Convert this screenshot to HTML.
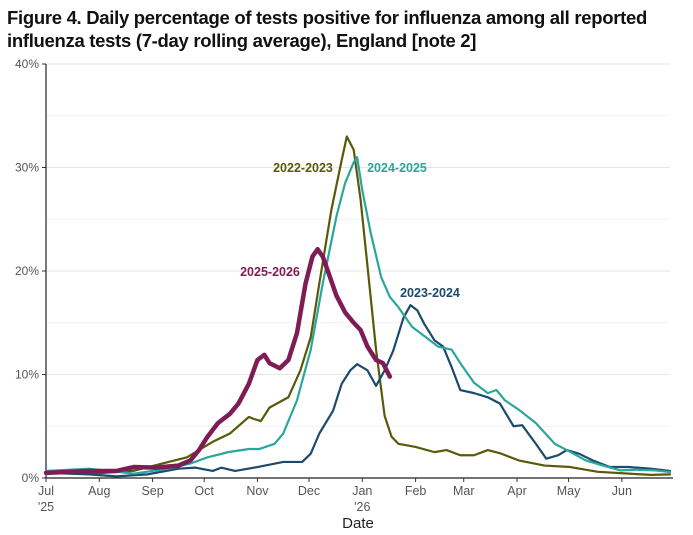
<!DOCTYPE html>
<html><head><meta charset="utf-8"><style>
body{margin:0;background:#fff;width:693px;height:535px;overflow:hidden;font-family:"Liberation Sans",sans-serif}
#title{position:absolute;left:7px;top:6px;font-size:18.5px;font-weight:bold;color:#111;line-height:23px;letter-spacing:-0.3px}
svg{position:absolute;left:0;top:0}
</style></head><body>
<div id="title">Figure 4. Daily percentage of tests positive for influenza among all reported<br>influenza tests (7-day rolling average), England [note 2]</div>
<svg id="c" width="693" height="535"></svg>
<script>
const monthLabels=["Jul","Aug","Sep","Oct","Nov","Dec","Jan","Feb","Mar","Apr","May","Jun"];
const monthDays=[0,31,62,92,123,153,184,215,243,274,304,335];
const yTicks=[0,10,20,30,40];
const s2223Days=[0,25,51,69,82,92,97,107,118,121,125,130,141,148,154,159,166,172,175,179,183,187,192,197,201,205,215,226,233,241,249,257,264,275,290,305,321,339,352,363];
const s2223Vals=[0.5,0.4,0.7,1.45,2,3,3.5,4.3,5.9,5.7,5.5,6.8,7.8,10.4,13.6,18.8,25.9,30.7,33,31.7,26.9,20.5,12.4,6,4,3.3,3,2.5,2.7,2.2,2.2,2.7,2.4,1.7,1.2,1.06,0.6,0.42,0.3,0.35];
const s2324Days=[0,25,41,59,77,87,97,102,110,123,138,149,154,159,167,172,177,181,187,192,197,202,208,212,216,220,226,231,236,241,249,257,264,272,277,285,291,298,303,310,318,328,339,352,363];
const s2324Vals=[0.5,0.35,0.16,0.35,0.9,1,0.68,1,0.68,1.06,1.55,1.55,2.35,4.3,6.5,9.1,10.4,11,10.4,8.9,10.4,12.3,15.5,16.7,16.2,14.9,13.3,12.7,10.7,8.5,8.2,7.8,7.2,5,5.1,3.3,1.87,2.2,2.7,2.35,1.7,1.06,1.06,0.9,0.68];
const s2425Days=[0,25,51,71,84,94,106,118,124,133,138,146,154,161,169,174,179,181,184,189,195,200,205,213,221,228,236,241,249,257,262,267,275,285,296,303,314,324,334,344,354,363];
const s2425Vals=[0.68,0.9,0.42,0.9,1.4,2,2.5,2.8,2.8,3.3,4.3,7.5,12.4,18.8,25.3,28.5,30.5,31,27.8,23.6,19.4,17.5,16.5,14.6,13.6,12.7,12.4,11.1,9.2,8.2,8.5,7.5,6.6,5.3,3.3,2.7,1.7,1.2,0.74,0.8,0.74,0.58];
const s2526Days=[0,25,41,51,64,77,84,89,94,100,107,112,118,123,127,130,136,141,146,151,155,158,161,165,169,174,179,183,187,192,196,200];
const s2526Vals=[0.5,0.68,0.68,1.06,1,1.2,1.7,2.7,4,5.3,6.2,7.2,9.1,11.4,11.9,11.1,10.6,11.4,14,18.8,21.4,22.1,21.4,19.5,17.6,16,15,14.3,12.7,11.4,11.1,9.8];
const X0=46,X1=670,DMAX=363,Y0=478,Y40=64;
const x=d=>X0+(X1-X0)*d/DMAX;
const y=v=>Y0-(Y0-Y40)*v/40;
const svg=document.getElementById('c');
const NS='http://www.w3.org/2000/svg';
function mk(t,a,txt){const e=document.createElementNS(NS,t);for(const k in a)e.setAttribute(k,a[k]);if(txt!==undefined)e.textContent=txt;svg.appendChild(e);return e;}
for(let v=5;v<=40;v+=5){
 const g=mk('line',{x1:X0,x2:X1,y1:y(v),y2:y(v),stroke:v%10?'#f2f2f2':'#e6e6e6','stroke-width':1});
 
 
}
yTicks.forEach(v=>{
 const t=mk('text',{x:39,y:y(v)+4,'text-anchor':'end','font-size':12,fill:'#555'},v+'%');
 
 
 mk('line',{x1:X0-4,x2:X0,y1:y(v),y2:y(v),stroke:'#333'});
});
mk('line',{x1:X0,x2:X0,y1:Y40,y2:Y0,stroke:'#222','stroke-width':1.2});
mk('line',{x1:X0,x2:X1+3,y1:Y0,y2:Y0,stroke:'#222','stroke-width':1.2});
monthLabels.forEach((m,i)=>{
 const px=x(monthDays[i]);
 mk('line',{x1:px,x2:px,y1:Y0,y2:Y0+4,stroke:'#333'});
 const t=mk('text',{x:px,y:495,'text-anchor':'middle','font-size':12.5,fill:'#555'},m);
 
 
});
mk('text',{x:x(0),y:511,'text-anchor':'middle','font-size':12.5,fill:'#555'},"'25");
mk('text',{x:x(184),y:511,'text-anchor':'middle','font-size':12.5,fill:'#555'},"'26");
const xt=mk('text',{x:358,y:528,'text-anchor':'middle','font-size':15,fill:'#222'},'Date');


function line(days,vals,color,w,name){
 const p=mk('polyline',{points:days.map((d,i)=>x(d)+','+y(vals[i])).join(' '),fill:'none',stroke:color,'stroke-width':w,'stroke-linejoin':'round','stroke-linecap':'round'});
 
 
}
line(s2223Days,s2223Vals,'#585a0a',2.2,'line-2022-2023');
line(s2324Days,s2324Vals,'#1c4a6e',2.2,'line-2023-2024');
line(s2425Days,s2425Vals,'#2ba69b',2.2,'line-2024-2025');
line(s2526Days,s2526Vals,'#7f1b55',4.5,'line-2025-2026');
function lab(tx,px,py,c,name){const t=mk('text',{x:px,y:py,'text-anchor':'middle','font-size':12.5,'font-weight':'bold',fill:c},tx);
 
 }
lab('2022-2023',303,172,'#585a0a','label-2022-2023');
lab('2024-2025',397,172,'#2ba69b','label-2024-2025');
lab('2025-2026',270,276,'#7f1b55','label-2025-2026');
lab('2023-2024',430,297,'#1c4a6e','label-2023-2024');
</script>
</body></html>
